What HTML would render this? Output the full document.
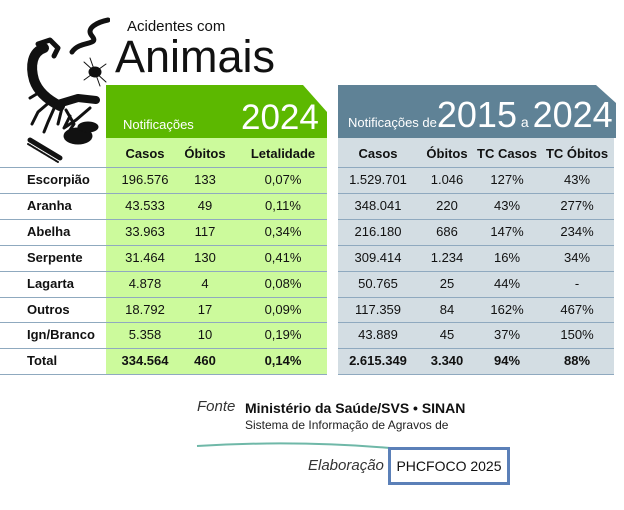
<!DOCTYPE html>
<html><head><meta charset="utf-8"><style>
body{margin:0;width:624px;height:510px;background:#fff;font-family:"Liberation Sans",sans-serif;position:relative;overflow:hidden;color:#111}
.a{position:absolute}
.c{position:absolute;text-align:center;font-size:13px;transform:translateX(-50%);white-space:nowrap}
.b{font-weight:bold}
.lbl{position:absolute;left:27px;font-size:13px;font-weight:bold}
.line{position:absolute;height:1px;background:#8fa9bf}
</style></head><body>
<svg class="a" style="left:0;top:0" width="110" height="170">
<g fill="#111" stroke="#111" stroke-linecap="round" stroke-linejoin="round">
<path d="M44 48 C32 52 30 66 34 80 C38 92 48 100 60 106" stroke-width="10" fill="none"/>
<path d="M38 44 L50 40 L58 48 L54 56" stroke-width="5" fill="none"/>
<path d="M58 104 L78 98 L96 100" stroke-width="8" fill="none"/>
<path d="M52 100 L38 112 L32 124 M56 104 L48 122 L44 132 M62 108 L58 124 M66 110 L74 124 L70 130 M40 92 L30 98" stroke-width="3" fill="none"/>
<path d="M70 116 L64 128 L76 120 L90 108" stroke-width="3" fill="none"/>
<path d="M72 52 C80 40 100 46 92 36 C85 28 98 22 108 20" stroke-width="5" fill="none"/>
<ellipse cx="95" cy="72" rx="6" ry="5"/>
<path d="M84 62 L106 82 M84 80 L106 64 M90 58 L100 86" stroke-width="1" fill="none"/>
<ellipse cx="78" cy="136" rx="14" ry="8"/>
<ellipse cx="88" cy="127" rx="10" ry="5"/>
<path d="M30 140 L60 158" stroke-width="5" fill="none"/>
<path d="M28 144 L58 162" stroke-width="2" stroke-dasharray="1 1" fill="none"/>
</g></svg>
<div class="a" style="left:127px;top:18px;font-size:15px">Acidentes com</div>
<div class="a" style="left:115px;top:33px;font-size:45px;line-height:48px">Animais</div>

<div class="a" style="left:106px;top:138px;width:221px;height:236px;background:#ccfa9c"></div>
<svg class="a" style="left:106px;top:85px" width="221" height="53"><polygon points="0,0 197,0 221,27 221,53 0,53" fill="#5cb800"/></svg>
<div class="a" style="left:123px;top:117px;font-size:13px;color:#fff">Notificações</div>
<div class="a" style="left:241px;top:99px;font-size:35px;color:#fff;line-height:38px">2024</div>

<div class="a" style="left:338px;top:138px;width:276px;height:236px;background:#d3dde3"></div>
<svg class="a" style="left:338px;top:85px" width="278" height="53"><polygon points="0,0 258,0 278,18 278,53 0,53" fill="#5f8296"/></svg>
<div class="a" style="left:348px;top:95px;color:#fff;white-space:nowrap"><span style="font-size:13px">Notificações </span><span style="font-size:13px">de</span><span style="font-size:36px;line-height:40px">2015</span><span style="font-size:14px"> a </span><span style="font-size:36px;line-height:40px">2024</span></div>

<div id="tbl"></div>

<div class="a" style="left:197px;top:398px;font-size:15px;font-style:italic;color:#333">Fonte</div>
<div class="a b" style="left:245px;top:400px;font-size:14px">Ministério da Saúde/SVS • SINAN</div>
<div class="a" style="left:245px;top:418px;font-size:12px;color:#222">Sistema de Informação de Agravos de</div>
<svg class="a" style="left:195px;top:440px" width="200" height="12"><path d="M2 6 Q100 0 195 8" stroke="#6fb8a8" stroke-width="2" fill="none"/></svg>
<div class="a" style="left:308px;top:457px;font-size:15px;font-style:italic;color:#333">Elaboração</div>
<div class="a" style="left:388px;top:447px;width:122px;height:38px;border:3px solid #5b80b8;box-sizing:border-box;font-size:14px;text-align:center;line-height:32px">PHCFOCO 2025</div>

<script>
const animals=["Escorpião","Aranha","Abelha","Serpente","Lagarta","Outros","Ign/Branco","Total"];
const casos24=["196.576","43.533","33.963","31.464","4.878","18.792","5.358","334.564"];
const obitos24=["133","49","117","130","4","17","10","460"];
const letal24=["0,07%","0,11%","0,34%","0,41%","0,08%","0,09%","0,19%","0,14%"];
const casosTot=["1.529.701","348.041","216.180","309.414","50.765","117.359","43.889","2.615.349"];
const obitosTot=["1.046","220","686","1.234","25","84","45","3.340"];
const tcCasos=["127%","43%","147%","16%","44%","162%","37%","94%"];
const tcObitos=["43%","277%","234%","34%","-","467%","150%","88%"];
const heads=["Casos","Óbitos","Letalidade","Casos","Óbitos","TC Casos","TC Óbitos"];
const cols=[casos24,obitos24,letal24,casosTot,obitosTot,tcCasos,tcObitos];
const cx=[145,205,283,378,447,507,577];
const T=document.getElementById('tbl');
function add(cls,text,x,y,name){const d=document.createElement('div');d.className=cls;d.textContent=text;if(x!==null)d.style.left=x+'px';d.style.top=y+'px';


T.appendChild(d);return d;}
heads.forEach((h,i)=>add('c b',h,cx[i],146,'col-header-'+i));
const rowH=25.9,top0=167;
for(let r=0;r<=animals.length;r++){
  const y=Math.round(top0+r*rowH);
  [[0,327],[338,614]].forEach((s,k)=>{const l=document.createElement('div');l.className='line';l.style.left=s[0]+'px';l.style.width=(s[1]-s[0])+'px';l.style.top=y+'px';
  
  
  T.appendChild(l);});
}
animals.forEach((a,r)=>{
  const y=Math.round(top0+r*rowH+5);
  add('lbl',a,null,y,'row-label-'+r);
  cols.forEach((c,i)=>add('c'+(r===animals.length-1?' b':''),c[r],cx[i],y,'cell-'+r+'-'+i));
});
</script>
</body></html>
